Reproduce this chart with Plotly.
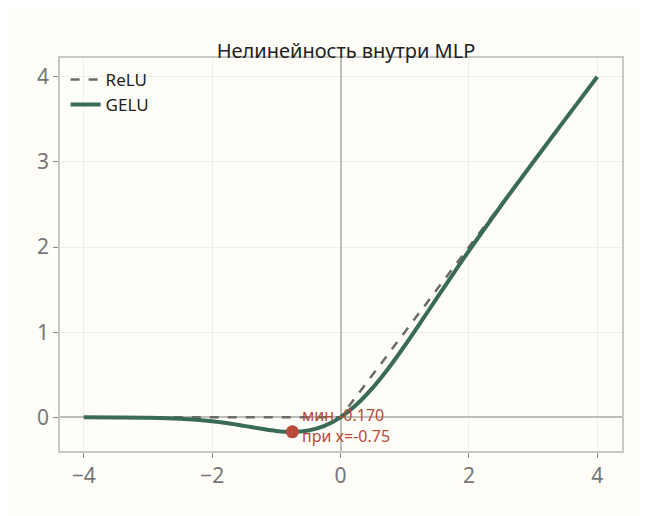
import plotly.graph_objects as go

relu_x = [-4, 0, 4]
relu_y = [0, 0, 4]
gelu_x = [-4, -3.5, -3, -2.5, -2, -1.75, -1.5, -1.25, -1, -0.75, -0.5, -0.25, 0, 0.25, 0.5, 0.75, 1, 1.25, 1.5, 1.75, 2, 2.5, 3, 3.5, 4]
gelu_y = [-0.0001, -0.0008, -0.004, -0.0155, -0.045, -0.070, -0.100, -0.132, -0.159, -0.170, -0.154, -0.100, 0, 0.150, 0.346, 0.580, 0.841, 1.118, 1.400, 1.680, 1.955, 2.485, 2.996, 3.499, 4.0]
min_x = [-0.75]
min_y = [-0.170]
min_label = "мин -0.170<br>при x=-0.75"

fig = go.Figure()
fig.add_trace(go.Scatter(x=relu_x, y=relu_y, mode="lines", name="ReLU",
                         line=dict(color="#6b6b6b", width=2.5, dash="dash")))
fig.add_trace(go.Scatter(x=gelu_x, y=gelu_y, mode="lines", name="GELU", line_shape="spline",
                         line=dict(color="#3a6b58", width=4)))
fig.add_trace(go.Scatter(x=min_x, y=min_y, mode="markers", showlegend=False,
                         marker=dict(color="#b84a3a", size=13)))
fig.add_annotation(x=min_x[0], y=min_y[0], text=min_label, showarrow=False,
                   xanchor="left", yanchor="middle", xshift=8, yshift=6, align="left",
                   font=dict(color="#b84a3a", size=16))
ax = dict(showline=True, mirror=True, linecolor="#c8c8c8", linewidth=1.5, automargin=False,
          gridcolor="#eeeeea", zeroline=True, zerolinecolor="#bdbdbd", zerolinewidth=1.5,
          ticks="outside", ticklen=5, tickcolor="#888", tickfont=dict(size=21, color="#777"))
fig.update_layout(
    width=650, height=516, paper_bgcolor="#fffdf7", plot_bgcolor="#fffdf7",
    font=dict(family="Noto Sans, sans-serif"),
    margin=dict(l=52, r=36, t=50, b=73),
    title=dict(text="Нелинейность внутри MLP", x=0.52, xanchor="center", y=0.93,
               font=dict(size=20, color="#222")),
    legend=dict(x=0.01, y=0.99, bgcolor="rgba(0,0,0,0)", font=dict(size=17, color="#222")),
    xaxis=dict(range=[-4.37, 4.385], tickvals=[-4, -2, 0, 2, 4], **ax),
    yaxis=dict(range=[-0.395, 4.22], tickvals=[0, 1, 2, 3, 4], **ax),
)
fig.write_html("out.html")
